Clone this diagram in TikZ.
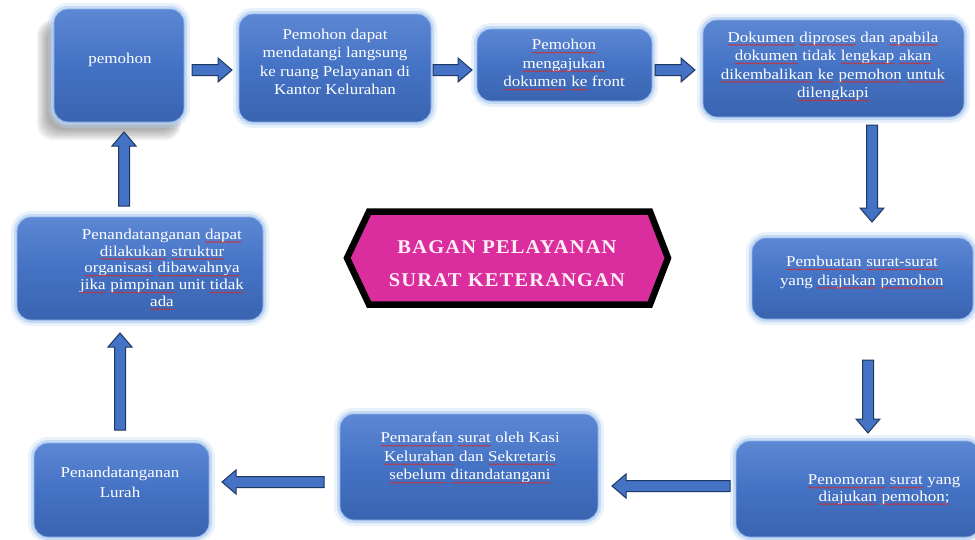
\documentclass[tikz,border=0pt]{standalone}
\usepackage{fontspec}
\setmainfont{Liberation Serif}[FakeStretch=1.13]
\newfontfamily\titlefont{Liberation Serif}[FakeStretch=1.05,LetterSpace=6]
\usetikzlibrary{decorations.pathmorphing}
\definecolor{boxtop}{HTML}{5C87D3}
\definecolor{boxmid}{HTML}{4472C4}
\definecolor{boxbot}{HTML}{3A64B0}
\definecolor{boxedge}{HTML}{8FB2EA}
\definecolor{glowc}{HTML}{B7D2F3}
\definecolor{arrowedge}{HTML}{1F3763}
\definecolor{hexpink}{HTML}{DA2E9E}
\definecolor{titlewhite}{HTML}{FFF0F8}
\definecolor{squig}{HTML}{D42A2A}
\newcommand\sq[1]{\tikz[baseline=(sqw.base)]{\node[inner sep=0pt, outer sep=0pt, text=white] (sqw) {#1};
  \draw[squig, line width=0.55pt, decorate, decoration={snake, amplitude=0.6pt, segment length=2.6pt}]
  ([yshift=-2.8pt]sqw.base west) -- ([yshift=-2.8pt]sqw.base east);}}
\tikzset{
  box/.style={rectangle, rounded corners=14pt, inner sep=0pt,
    top color=boxtop, bottom color=boxbot, middle color=boxmid,
    draw=boxedge, line width=0.8pt,
    preaction={draw=glowc, line width=12pt, opacity=0.3},
    preaction={draw=glowc, line width=6pt, opacity=0.7}},
  txt/.style={text=white, align=center, inner sep=0pt,
    font=\fontsize{15}{18.5}\selectfont},
  barrow/.style={fill=boxmid, draw=arrowedge, line width=1pt, line join=miter},
  hexagonbox/.style={fill=hexpink, draw=black, line width=6.5pt, line join=miter},
  titletxt/.style={text=titlewhite, align=center, inner sep=0pt,
    font=\titlefont\bfseries\fontsize{19.5}{33}\selectfont}
}
\newcommand\barr[4]{\draw[barrow, shift={(#1,#2)}, rotate=#3]
  (0,-5.5) -- (#4-14,-5.5) -- (#4-14,-12) -- (#4,0) -- (#4-14,12) -- (#4-14,5.5) -- (0,5.5) -- cycle;}
\begin{document}
\begin{tikzpicture}[x=1pt,y=-1pt]
\useasboundingbox (0,0) rectangle (975,539);
\fill[white] (0,0) rectangle (975,539);

% soft shadow of first box (left and bottom)
\foreach \k in {0,2,...,10}{
  \fill[black, opacity=0.06, rounded corners=16pt]
    ({47-\k},{24-0.4*\k}) rectangle ({177+0.4*\k},{130+\k});
}

% boxes
\node[box, minimum width=130pt, minimum height=113pt] (b1) at (119,65.5) {};
\node[box, minimum width=192pt, minimum height=108pt] (b2) at (335,68) {};
\node[box, minimum width=175pt, minimum height=72pt] (b3) at (564.5,65) {};
\node[box, minimum width=261pt, minimum height=97pt] (b4) at (833.5,68.5) {};
\node[box, minimum width=221pt, minimum height=81pt] (b5) at (862.5,278.5) {};
\node[box, minimum width=244pt, minimum height=96pt] (b6) at (858,489) {};
\node[box, minimum width=258pt, minimum height=106pt] (b7) at (469,467) {};
\node[box, minimum width=175pt, minimum height=94pt] (b8) at (121.5,490) {};
\node[box, minimum width=246pt, minimum height=103pt] (b9) at (140,268.5) {};

% texts
\node[txt] (t1) at (120,60) {pemohon};
\node[txt] (t2) at (335,62) {Pemohon dapat\\mendatangi langsung\\ke ruang Pelayanan di\\Kantor Kelurahan};
\node[txt] (t3) at (564,65) {\sq{Pemohon}\\\sq{mengajukan}\\\sq{dokumen} \sq{ke} front};
\node[txt] (t4) at (833,66.5) {\sq{Dokumen} \sq{diproses} dan \sq{apabila}\\\sq{dokumen} tidak \sq{lengkap} \sq{akan}\\\sq{dikembalikan} \sq{ke} \sq{pemohon} \sq{untuk}\\\sq{dilengkapi}};
\node[txt] (t5) at (862,272.5) {\sq{Pembuatan} \sq{surat-surat}\\yang \sq{diajukan} \sq{pemohon}};
\node[txt, font=\fontsize{15}{16.5}\selectfont] (t6) at (884,490) {\sq{Penomoran} \sq{surat} yang\\\sq{diajukan} \sq{pemohon;}};
\node[txt] (t7) at (470,458) {\sq{Pemarafan} \sq{surat} oleh Kasi\\\sq{Kelurahan} dan \sq{Sekretaris}\\\sq{sebelum} \sq{ditandatangani}};
\node[txt, font=\fontsize{15}{20}\selectfont] (t8) at (120,482) {Penandatanganan\\Lurah};
\node[txt, font=\fontsize{15}{16.8}\selectfont] (t9) at (162,269.5) {Penandatanganan \sq{dapat}\\\sq{dilakukan} \sq{struktur}\\\sq{organisasi} \sq{dibawahnya}\\\sq{jika} \sq{pimpinan} unit \sq{tidak}\\\sq{ada}};

% block arrows
\barr{192}{70}{0}{40}
\barr{433}{70}{0}{39}
\barr{655}{70}{0}{40}
\barr{872}{125}{-90}{97}
\barr{868}{360}{-90}{73}
\barr{730}{486}{180}{118}
\barr{324}{482}{180}{102}
\barr{120}{430}{90}{97}
\barr{124}{206}{90}{74}

% central hexagon
\draw[hexagonbox] (347,258) -- (369,211.5) -- (650,211.5) -- (668,258) -- (650,304.5) -- (369,304.5) -- cycle;
\node[titletxt] (title) at (507,264) {BAGAN PELAYANAN\\SURAT KETERANGAN};
\end{tikzpicture}
\end{document}
